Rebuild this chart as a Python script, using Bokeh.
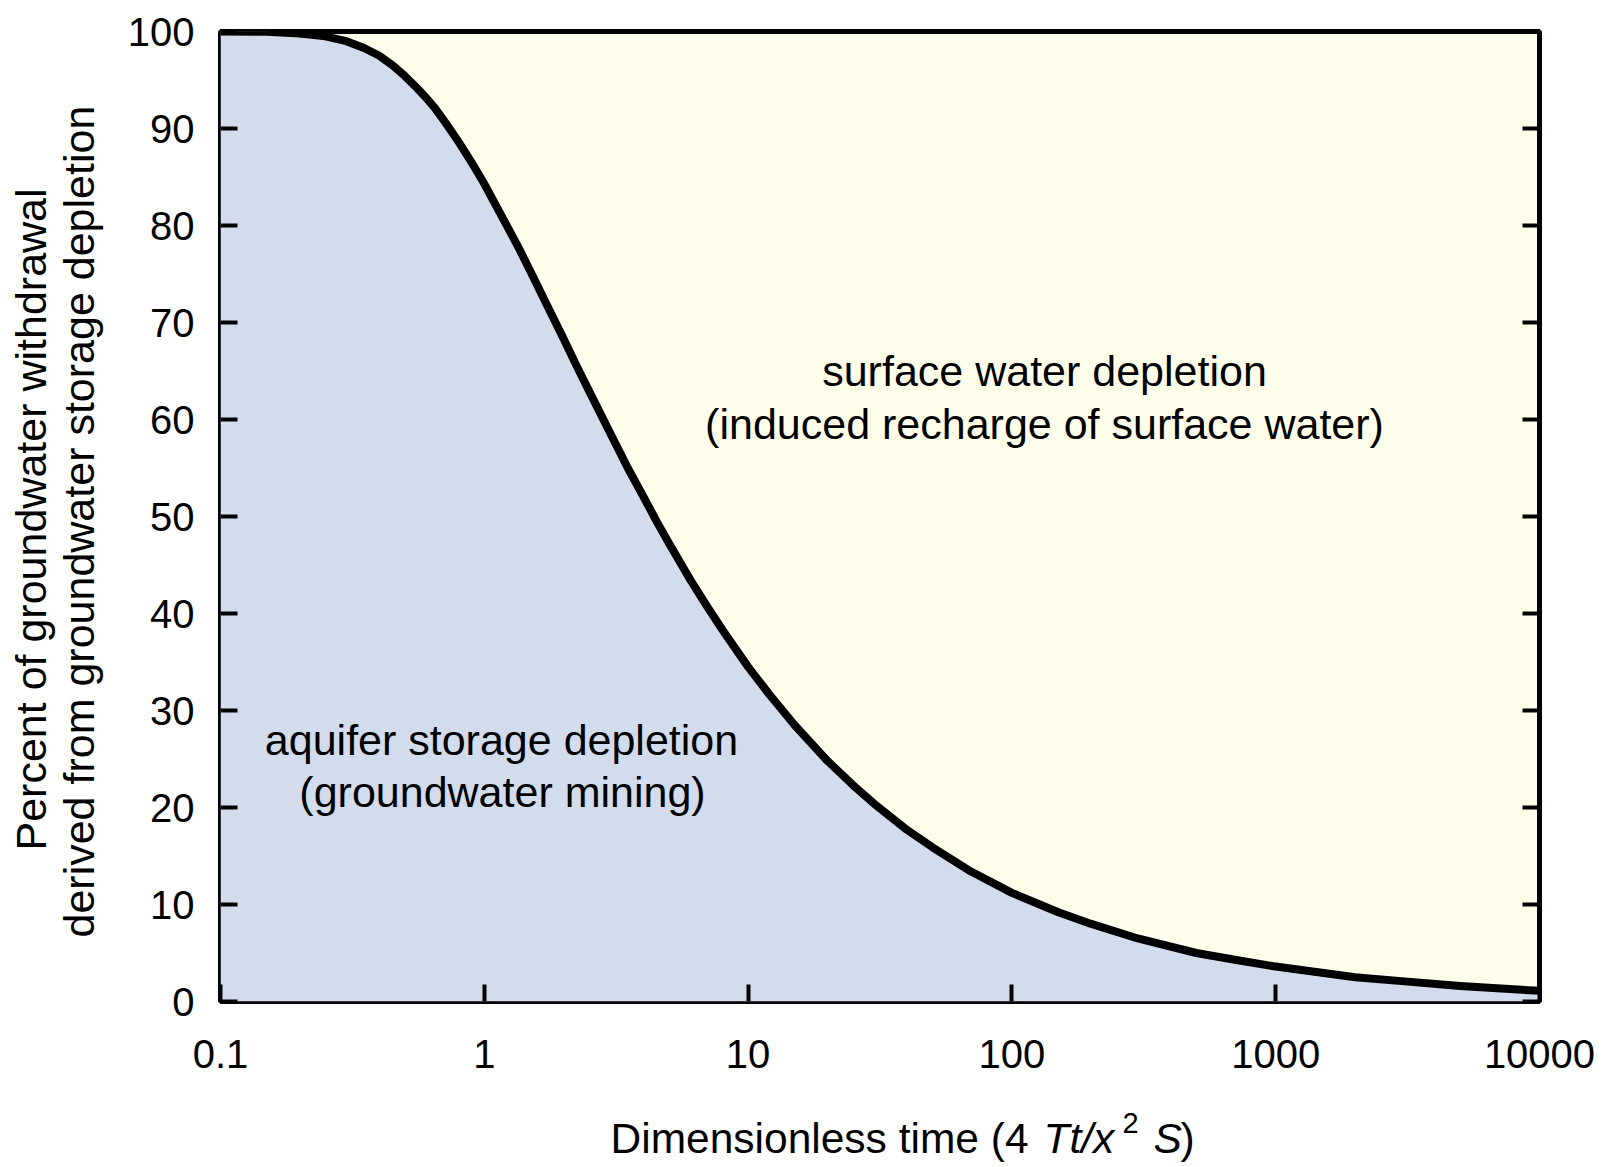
import numpy as np
from bokeh.plotting import figure
from bokeh.layouts import row, column
from bokeh.models import FixedTicker, LinearAxis, Label, Range1d, CustomJSTickFormatter
from bokeh.embed import file_html
from bokeh.resources import INLINE

# ---- data ----
dimensionless_time = [0.1, 0.15, 0.2, 0.25, 0.3, 0.35, 0.4, 0.45, 0.5, 0.55, 0.6, 0.65, 0.7, 0.8, 0.9,
                      1.0, 1.1, 1.2, 1.35, 1.5, 1.75, 2.0, 2.25, 2.5, 3.0, 3.5, 4.0, 4.5, 5.0, 6.0,
                      7.0, 8.0, 10.0, 12.0, 15.0, 20.0, 25.0, 30.0, 40.0, 50.0, 70.0, 100.0, 150.0,
                      200.0, 300.0, 500.0, 700.0, 1000.0, 2000.0, 3000.0, 5000.0, 10000.0]
storage_percent = [100.0, 99.97, 99.8, 99.5, 99.0, 98.3, 97.5, 96.5, 95.4, 94.3, 93.2, 92.1, 90.9, 88.6, 86.4,
                   84.3, 82.2, 80.3, 77.7, 75.2, 71.5, 68.3, 65.4, 62.9, 58.6, 55.0, 52.1, 49.5, 47.3, 43.6,
                   40.7, 38.3, 34.5, 31.7, 28.5, 24.8, 22.3, 20.4, 17.7, 15.9, 13.4, 11.2, 9.2,
                   8.0, 6.5, 5.0, 4.3, 3.6, 2.5, 2.1, 1.6, 1.1]
x_ticks = [0.1, 1, 10, 100, 1000, 10000]
x_tick_labels = ["0.1", "1", "10", "100", "1000", "10000"]
y_ticks = [0, 10, 20, 30, 40, 50, 60, 70, 80, 90, 100]
y_tick_labels = ["0", "10", "20", "30", "40", "50", "60", "70", "80", "90", "100"]

FONT = "Liberation Sans"
BLUE = "#d3dcec"
YELLOW = "#fffeea"

MAIN_H = 1095
LEFT_W = 110
BOTTOM_H = 70
PANEL_SHIFT = 13   # observed extra offset of text baselines in the lower panel
LEFT_SHIFT = 28    # observed extra offset of the rotated labels

p = figure(x_axis_type="log", x_range=Range1d(0.1, 10000), y_range=Range1d(0, 100),
           frame_width=1319, frame_height=970,
           min_border_left=110, min_border_right=61, min_border_top=31,
           min_border_bottom=MAIN_H - 31 - 970,
           output_backend="svg", toolbar_location=None,
           background_fill_color=YELLOW, border_fill_color="white")
p.grid.visible = False
p.outline_line_color = "black"
p.outline_line_width = 5

p.varea(x=dimensionless_time, y1=0, y2=storage_percent, fill_color=BLUE)
p.line(dimensionless_time, storage_percent, line_width=8, line_color="black", line_join="round")

xa = p.xaxis[0]
xa.ticker = FixedTicker(ticks=x_ticks)
xa.major_label_overrides = {t: s for t, s in zip(x_ticks, x_tick_labels)}
xa.major_label_standoff = 38

ya = p.yaxis[0]
ya.ticker = FixedTicker(ticks=y_ticks)
ya.major_label_overrides = {t: s for t, s in zip(y_ticks, y_tick_labels)}
ya.major_label_standoff = 26

ra = LinearAxis(ticker=FixedTicker(ticks=y_ticks),
                formatter=CustomJSTickFormatter(code="return ''"))
p.add_layout(ra, "right")

for ax in (xa, ya, ra):
    ax.axis_line_color = None
    ax.major_tick_in = 17
    ax.major_tick_out = 0
    ax.major_tick_line_width = 4
    ax.major_tick_line_color = "black"
    ax.minor_tick_line_color = None
    ax.axis_label_standoff = 0
    ax.major_label_text_font = FONT
    ax.major_label_text_font_size = "40px"
    ax.major_label_text_color = "black"


def X(px):
    return 10 ** (-1 + (px - 220) / 263.8)


def Y(py):
    return (1001 - py) / 9.70


def lab(fig, text, x, y, size="43px", style="normal", align="center", baseline="middle", angle=0.0):
    fig.add_layout(Label(x=x, y=y, text=text, text_font=FONT, text_font_size=size,
                         text_font_style=style, text_align=align, text_baseline=baseline,
                         text_color="black", angle=angle))


# region annotations (inside the plot frame)
lab(p, "surface water depletion", X(1044), Y(370))
lab(p, "(induced recharge of surface water)", X(1044), Y(423))
lab(p, "aquifer storage depletion", X(501), Y(739))
lab(p, "(groundwater mining)", X(502), Y(791))


def text_panel(w, h):
    f = figure(frame_width=w, frame_height=h, x_range=Range1d(0, w), y_range=Range1d(h, 0),
               title=None, min_border=0, toolbar_location=None, output_backend="svg",
               x_axis_location=None, y_axis_location=None,
               outline_line_color=None, background_fill_color="white", border_fill_color="white")
    f.grid.visible = False
    return f


# y-axis title (two lines), in its own panel left of the plot; text runs upward from its start
left = text_panel(LEFT_W, MAIN_H)
lab(left, "Percent of groundwater withdrawal", 30, 847 - LEFT_SHIFT, align="left", angle=np.pi / 2)
lab(left, "derived from groundwater storage depletion", 78, 934 - LEFT_SHIFT, align="left", angle=np.pi / 2)

# x-axis title with italic parts and superscript, in its own panel below
total_w = LEFT_W + 110 + 1319 + 61
bottom = text_panel(total_w, BOTTOM_H)
top0 = MAIN_H + PANEL_SHIFT
T = "42.5px"
lab(bottom, "Dimensionless time (4", 610, 1151 - top0, size=T, align="left", baseline="alphabetic")
lab(bottom, "Tt/x", 1043, 1151 - top0, size=T, style="italic", align="left", baseline="alphabetic")
lab(bottom, "2", 1122, 1135 - top0, size="29px", align="left", baseline="alphabetic")
lab(bottom, "S", 1153, 1151 - top0, size=T, style="italic", align="left", baseline="alphabetic")
lab(bottom, ")", 1180, 1151 - top0, size=T, align="left", baseline="alphabetic")

layout = column(row(left, p, spacing=0), bottom, spacing=0)

open("out.html", "w").write(file_html(layout, INLINE))
